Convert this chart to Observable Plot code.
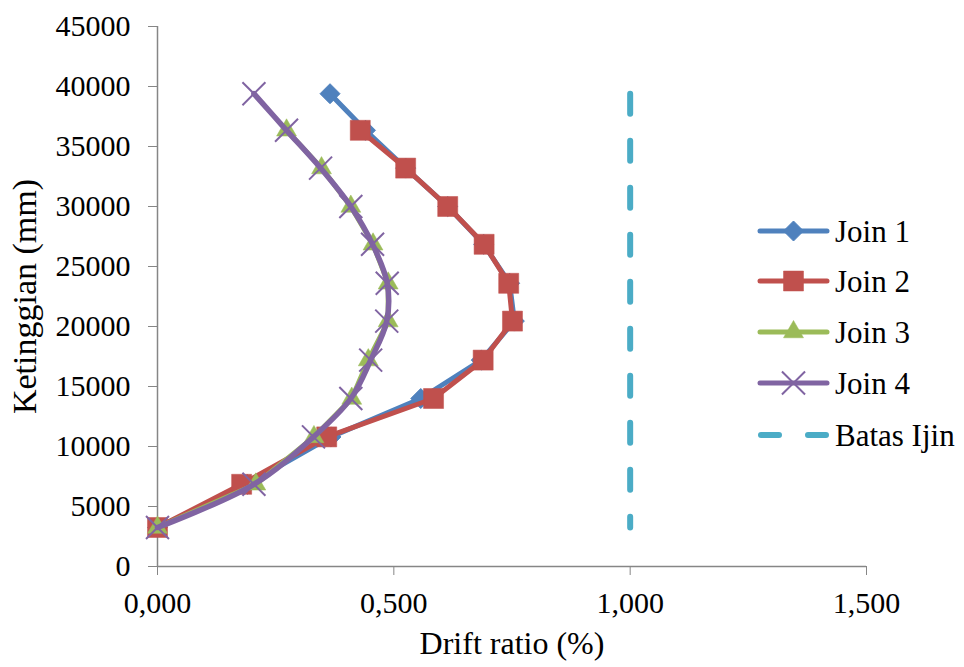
<!DOCTYPE html>
<html>
<head>
<meta charset="utf-8">
<script src="https://cdn.jsdelivr.net/npm/d3@7"></script>
<script src="https://cdn.jsdelivr.net/npm/@observablehq/plot@0.6"></script>
<style>
  body { margin: 0; background: white; }
  #chart { position: relative; width: 964px; height: 667px; font-family: "Liberation Serif", "Times New Roman", serif; }
  #chart svg, #chart text { font-family: "Liberation Serif", "Times New Roman", serif; }
  #legend { position: absolute; left: 0; top: 0; pointer-events: none; }
</style>
</head>
<body>
<div id="chart"></div>
<script>
// Data
const heights = [3250, 6850, 10800, 14000, 17200, 20450, 23600, 26850, 30000, 33200, 36350, 39400];
const join1 = [0, 0.19, 0.367, 0.557, 0.685, 0.755, 0.745, 0.69, 0.614, 0.525, 0.44, 0.365];
const join2 = [0, 0.178, 0.358, 0.584, 0.689, 0.751, 0.743, 0.691, 0.614, 0.525, 0.429, null];
const join3 = [0, 0.208, 0.331, 0.411, 0.446, 0.488, 0.488, 0.456, 0.409, 0.347, 0.273, null];
const join4 = [0, 0.204, 0.33, 0.409, 0.451, 0.485, 0.486, 0.455, 0.409, 0.345, 0.273, 0.204];
const batasX = [1, 1];
const batasY = [39400, 3250];
const seriesNames = ["Join 1", "Join 2", "Join 3", "Join 4", "Batas Ijin"];
const colors = ["#4F81BD", "#C0504D", "#9BBB59", "#8064A2", "#4BACC6"];
const xTicks = [0, 0.5, 1, 1.5];
const yTicks = [0, 5000, 10000, 15000, 20000, 25000, 30000, 35000, 40000, 45000];

const toRows = (vals) => vals.map((v, i) => ({x: v, y: heights[i]})).filter(d => d.x != null);
const r1 = toRows(join1), r2 = toRows(join2), r3 = toRows(join3), r4 = toRows(join4);
const batas = batasX.map((x, i) => ({x, y: batasY[i]}));
const fmt = d => d.toFixed(3).replace(".", ",");
const axisGray = "#868686";
const font = '"Liberation Serif", "Times New Roman", serif';

const plot = Plot.plot({
  width: 964,
  height: 667,
  marginLeft: 157,
  marginRight: 98,
  marginTop: 26,
  marginBottom: 101,
  style: {fontFamily: font, fontSize: "30px", background: "white", color: "black"},
  x: {domain: [0, 1.5]},
  y: {domain: [0, 45000]},
  marks: [
    Plot.axisX({ticks: xTicks, tickFormat: fmt, tickSize: 9, tickPadding: 16, stroke: axisGray, fill: "black", label: null, fontSize: 30}),
    Plot.axisY({ticks: yTicks, tickFormat: d => String(d), tickSize: 9, tickPadding: 18, stroke: axisGray, fill: "black", label: null, fontSize: 30}),
    Plot.ruleX([0], {stroke: axisGray, strokeWidth: 1.5}),
    Plot.ruleY([0], {stroke: axisGray, strokeWidth: 1.5}),
    // Join 1
    Plot.line(r1, {x: "x", y: "y", stroke: colors[0], strokeWidth: 5, strokeLinejoin: "round", strokeLinecap: "round"}),
    Plot.dot(r1, {x: "x", y: "y", symbol: "diamond2", r: 9, fill: colors[0], stroke: colors[0], strokeWidth: 1}),
    // Join 2
    Plot.line(r2, {x: "x", y: "y", stroke: colors[1], strokeWidth: 5, strokeLinejoin: "round", strokeLinecap: "round"}),
    Plot.dot(r2, {x: "x", y: "y", symbol: "square", r: 11.3, fill: colors[1], stroke: colors[1], strokeWidth: 0.5}),
    // Join 3
    Plot.line(r3, {x: "x", y: "y", stroke: colors[2], strokeWidth: 5, strokeLinejoin: "round", strokeLinecap: "round"}),
    Plot.dot(r3, {x: "x", y: "y", symbol: "triangle", r: 7.4, fill: colors[2], stroke: colors[2], strokeWidth: 0.5}),
    // Join 4
    Plot.line(r4, {x: "x", y: "y", stroke: colors[3], strokeWidth: 5.5, curve: "catmull-rom", strokeLinejoin: "round", strokeLinecap: "round"}),
    Plot.dot(r4, {x: "x", y: "y", symbol: "times", r: 10.5, stroke: colors[3], strokeWidth: 2}),
    // Batas Ijin
    Plot.line(batas, {x: "x", y: "y", stroke: colors[4], strokeWidth: 6, strokeDasharray: "20,27", strokeLinecap: "round"}),
    // Axis titles
    Plot.text(["Drift ratio (%)"], {frameAnchor: "bottom", dy: 87, lineAnchor: "bottom", textAnchor: "middle", fontSize: 32, fill: "black"}),
    Plot.text(["Ketinggian (mm)"], {frameAnchor: "left", dx: -122, rotate: -90, lineAnchor: "bottom", textAnchor: "middle", fontSize: 34, fill: "black"})
  ]
});
const chart = document.getElementById("chart");
chart.appendChild(plot);

// Legend (drawn as an overlay, like Excel's legend inside the chart area)
const rowsY = [231, 281, 332, 383, 435];
const symbols = [d3.symbolDiamond2, d3.symbolSquare, d3.symbolTriangle, d3.symbolTimes, null];
const sizes = [255, 400, 173, 350, 0];
const leg = d3.select(chart).append("svg")
  .attr("id", "legend").attr("width", 964).attr("height", 667)
  .style("font-family", font);
seriesNames.forEach((name, i) => {
  const g = leg.append("g").attr("transform", `translate(0,${rowsY[i]})`);
  if (i < 4) {
    g.append("line").attr("x1", 760).attr("x2", 827).attr("y1", 0).attr("y2", 0)
      .attr("stroke", colors[i]).attr("stroke-width", 5).attr("stroke-linecap", "round");
    const p = g.append("path").attr("transform", "translate(793.5,0)")
      .attr("d", d3.symbol(symbols[i], sizes[i])());
    if (i === 3) p.attr("fill", "none").attr("stroke", colors[i]).attr("stroke-width", 2);
    else p.attr("fill", colors[i]).attr("stroke", colors[i]).attr("stroke-width", i === 0 ? 1 : 0.5);
  } else {
    g.append("line").attr("x1", 761).attr("x2", 826).attr("y1", 0).attr("y2", 0)
      .attr("stroke", colors[i]).attr("stroke-width", 6).attr("stroke-linecap", "round")
      .attr("stroke-dasharray", "18,29");
  }
  g.append("text").attr("x", 835).attr("y", 0).attr("dy", "0.35em")
    .attr("font-size", 31).attr("fill", "black").style("font-family", font).text(name);
});
</script>
</body>
</html>
